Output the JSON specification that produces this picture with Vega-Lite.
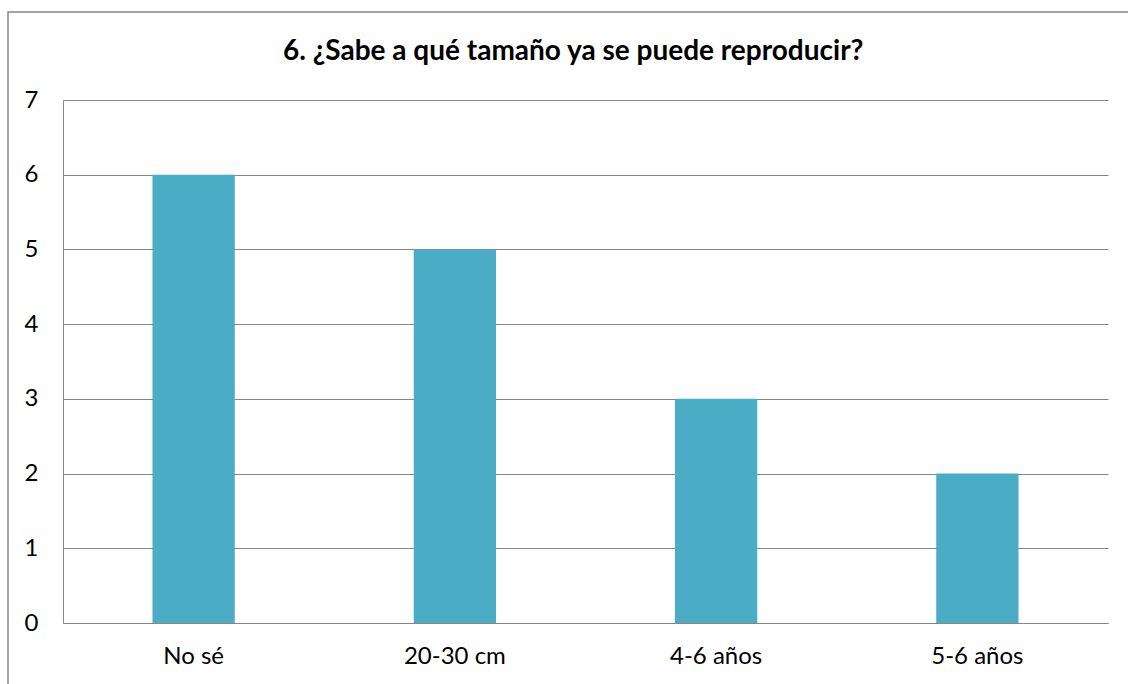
{
  "$schema": "https://vega.github.io/schema/vega-lite/v6.json",
  "autosize": "none",
  "padding": {"left": 8, "top": 12, "right": 0, "bottom": 0},
  "width": 1135,
  "height": 690,
  "background": "white",
  "title": {
    "text": "6. ¿Sabe a qué tamaño ya se puede reproducir?",
    "frame": "group",
    "anchor": "start",
    "offset": -54,
    "dx": 275,
    "font": "Lato",
    "fontSize": 28,
    "fontWeight": "bold",
    "color": "#000000"
  },
  "data": {
    "values": [
      {"respuesta": "No sé", "valor": 6},
      {"respuesta": "20-30 cm", "valor": 5},
      {"respuesta": "4-6 años", "valor": 3},
      {"respuesta": "5-6 años", "valor": 2}
    ]
  },
  "mark": {"type": "bar", "color": "#4BACC6"},
  "encoding": {
    "x": {
      "field": "respuesta",
      "type": "nominal",
      "sort": null,
      "scale": {"range": [55, 1100], "paddingInner": 0.685, "paddingOuter": 0.3425},
      "axis": {
        "title": null,
        "labelAngle": 0,
        "offset": -79,
        "ticks": false,
        "domainColor": "#868686",
        "labelPadding": 21,
        "labelFont": "Lato",
        "labelFontSize": 24,
        "labelColor": "#000000"
      }
    },
    "y": {
      "field": "valor",
      "type": "quantitative",
      "scale": {"domain": [0, 7], "range": [611, 88], "nice": false},
      "axis": {
        "title": null,
        "values": [0, 1, 2, 3, 4, 5, 6, 7],
        "offset": -55,
        "ticks": false,
        "domainColor": "#868686",
        "gridColor": "#868686",
        "gridOpacity": 1,
        "labelPadding": 25,
        "labelFont": "Lato",
        "labelFontSize": 24,
        "labelColor": "#000000"
      }
    }
  },
  "config": {
    "view": {"stroke": "#868686", "strokeWidth": 1.5}
  }
}
